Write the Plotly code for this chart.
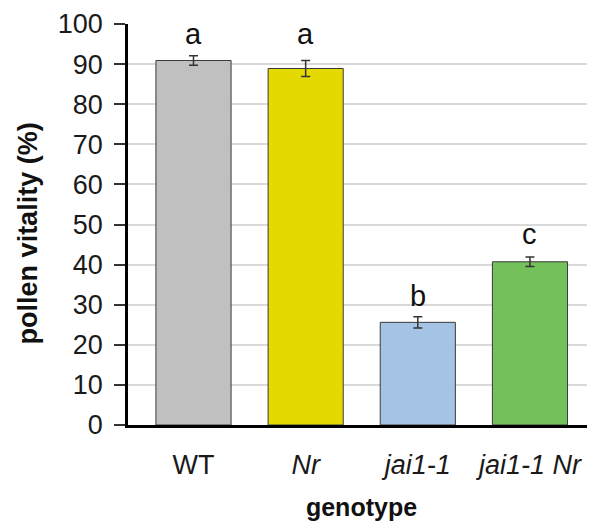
import plotly.graph_objects as go

genotypes = ["WT", "<i>Nr</i>", "<i>jai1-1</i>", "<i>jai1-1 Nr</i>"]
vitality = [90.9, 88.9, 25.6, 40.7]
errors = [1.2, 2.0, 1.4, 1.2]
letters = ["a", "a", "b", "c"]
letter_y = [92.9, 92.9, 27.6, 43.2]
colors = ["#c0c0c0", "#e4d900", "#a5c3e4", "#74c05a"]
y_ticks = list(range(0, 101, 10))

font = "Liberation Sans, Arial, sans-serif"

fig = go.Figure()
fig.add_trace(go.Bar(
    x=list(range(len(genotypes))), y=vitality,
    marker=dict(color=colors, line=dict(color="#3a3a3a", width=1)),
    error_y=dict(type="data", array=errors, visible=True,
                 color="#333333", thickness=1.5, width=4.5),
    width=0.67,
))

for i, (lt, ly) in enumerate(zip(letters, letter_y)):
    fig.add_annotation(x=i, y=ly, text=lt, showarrow=False,
                       yanchor="bottom", xanchor="center",
                       font=dict(family=font, size=29, color="#111111"))

# y-axis title as rotated annotation for precise placement
fig.add_annotation(xref="paper", yref="paper", x=-0.214, y=0.478,
                   text="<b>pollen vitality (%)</b>", textangle=-90,
                   showarrow=False, xanchor="center", yanchor="middle",
                   font=dict(family=font, size=27, color="#111111"))

fig.update_layout(
    width=587, height=513,
    margin=dict(l=120, r=0, t=16, b=96),
    paper_bgcolor="white", plot_bgcolor="white",
    showlegend=False,
    font=dict(family=font, color="#1a1a1a"),
)
fig.update_xaxes(
    range=[-0.584, 3.58], automargin=False,
    tickmode="array", tickvals=list(range(len(genotypes))), ticktext=genotypes,
    tickfont=dict(size=27, family=font, color="#1a1a1a"),
    showline=True, linecolor="black", linewidth=2.5,
    ticks="", ticklabelstandoff=14,
    title=dict(text="<b>genotype</b>", font=dict(size=25, family=font, color="#111111"), standoff=28),
    showgrid=False, zeroline=False,
)
fig.update_yaxes(
    range=[0, 100], automargin=False,
    tickmode="array", tickvals=y_ticks,
    tickfont=dict(size=27, family=font, color="#1a1a1a"),
    showline=True, linecolor="black", linewidth=2.5,
    ticks="outside", ticklen=11, tickwidth=2, tickcolor="#333333",
    ticklabelstandoff=6,
    showgrid=True, gridcolor="#d9d9d9", gridwidth=1.5,
    zeroline=False,
)

fig.write_html("out.html")
